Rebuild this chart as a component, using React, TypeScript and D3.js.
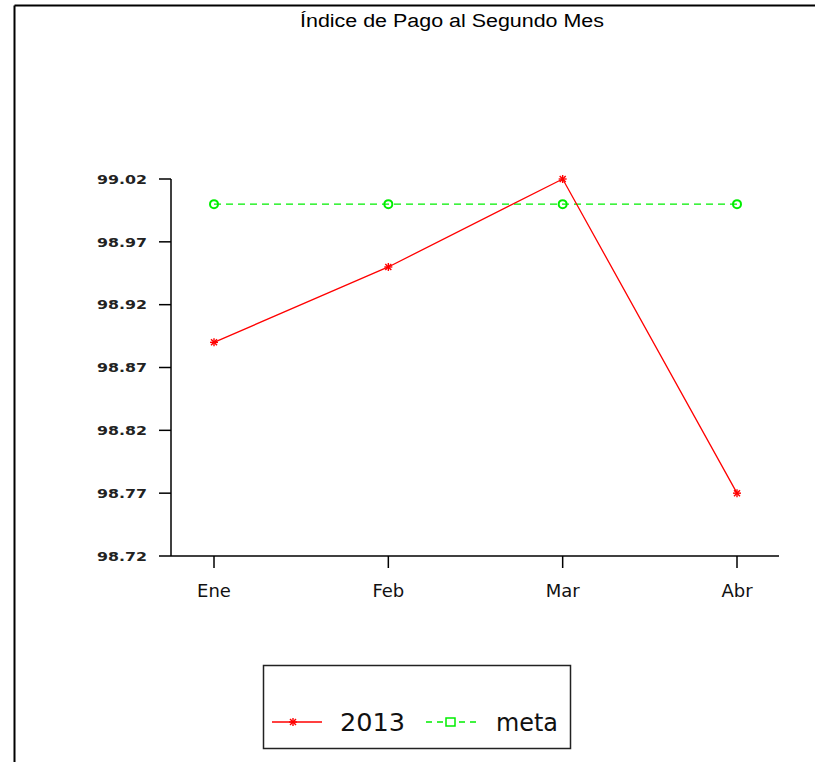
import React from "react";
import * as d3 from "d3";

const categories = ["Ene", "Feb", "Mar", "Abr"];
const series2013 = [98.89, 98.95, 99.02, 98.77];
const seriesMeta = [99.0, 99.0, 99.0, 99.0];
const yTicks = [98.72, 98.77, 98.82, 98.87, 98.92, 98.97, 99.02];
const title = "Índice de Pago al Segundo Mes";
const legendLabels = ["2013", "meta"];

const W = 815;
const H = 762;

function Star({ x, y, color }: { x: number; y: number; color: string }) {
  const r = 4;
  return (
    <g stroke={color} strokeWidth={1.4}>
      <line x1={x - r} y1={y} x2={x + r} y2={y} />
      <line x1={x} y1={y - r} x2={x} y2={y + r} />
      <line x1={x - r * 0.75} y1={y - r * 0.75} x2={x + r * 0.75} y2={y + r * 0.75} />
      <line x1={x - r * 0.75} y1={y + r * 0.75} x2={x + r * 0.75} y2={y - r * 0.75} />
    </g>
  );
}

export default function App() {
  const axisLeft = 171;
  const axisRight = 779;
  const y = d3.scaleLinear().domain([98.72, 99.02]).range([556, 179]);
  const x = d3.scalePoint<string>().domain(categories).range([214, 737]);
  const line = d3
    .line<number>()
    .x((_, i) => x(categories[i]) as number)
    .y((d) => y(d));

  return (
    <svg
      width={W}
      height={H}
      style={{ position: "absolute", left: 0, top: 0, background: "#fff" }}
      fontFamily="'Liberation Sans', Arial, sans-serif"
    >
      <rect x={0} y={0} width={W} height={H} fill="#fff" />
      {/* frame */}
      <line x1={14.5} y1={5.5} x2={W} y2={5.5} stroke="#000" strokeWidth={2} />
      <line x1={14.5} y1={5.5} x2={14.5} y2={H} stroke="#000" strokeWidth={2} />
      <text x={300} y={27} fontSize={18} textLength={304} lengthAdjust="spacingAndGlyphs">
        {title}
      </text>

      {/* y axis */}
      <line x1={axisLeft} y1={y(99.02)} x2={axisLeft} y2={y(98.72)} stroke="#000" strokeWidth={1.5} />
      {yTicks.map((t) => (
        <g key={t}>
          <line x1={159} x2={axisLeft} y1={y(t)} y2={y(t)} stroke="#000" strokeWidth={1.5} />
          <text
            x={97}
            y={y(t)}
            dy="0.36em"
            fontSize={13}
            fontWeight="bold"
            fontFamily="'DejaVu Sans', sans-serif"
            fill="#222"
            textLength={50}
            lengthAdjust="spacingAndGlyphs"
          >
            {t.toFixed(2)}
          </text>
        </g>
      ))}

      {/* x axis */}
      <line x1={axisLeft} y1={y(98.72)} x2={axisRight} y2={y(98.72)} stroke="#000" strokeWidth={1.5} />
      {categories.map((c) => (
        <g key={c}>
          <line x1={x(c)} x2={x(c)} y1={y(98.72)} y2={568} stroke="#000" strokeWidth={1.5} />
          <text
            x={x(c)}
            y={597}
            textAnchor="middle"
            fontSize={18}
            fontFamily="'DejaVu Sans', sans-serif"
            fill="#111"
          >
            {c}
          </text>
        </g>
      ))}

      {/* meta */}
      <path d={line(seriesMeta) || ""} fill="none" stroke="#00ee00" strokeWidth={1.3} strokeDasharray="7,5" />
      {seriesMeta.map((v, i) => (
        <circle key={i} cx={x(categories[i])} cy={y(v)} r={4} fill="none" stroke="#00ee00" strokeWidth={2} />
      ))}

      {/* 2013 */}
      <path d={line(series2013) || ""} fill="none" stroke="#ff0000" strokeWidth={1.3} />
      {series2013.map((v, i) => (
        <Star key={i} x={x(categories[i]) as number} y={y(v)} color="#ff0000" />
      ))}

      {/* legend */}
      <rect x={263.5} y={665.5} width={307} height={83} fill="#fff" stroke="#222" strokeWidth={1.5} />
      <line x1={272} x2={322} y1={722} y2={722} stroke="#ff0000" strokeWidth={1.3} />
      <Star x={293} y={722} color="#ff0000" />
      <text x={340} y={731} fontSize={24} fontFamily="'DejaVu Sans', sans-serif" fill="#111" textLength={65} lengthAdjust="spacingAndGlyphs">
        {legendLabels[0]}
      </text>
      <line x1={426} x2={476} y1={722} y2={722} stroke="#00ee00" strokeWidth={1.3} strokeDasharray="6,5" />
      <rect x={446} y={718} width={9} height={8} fill="#fff" stroke="#00ee00" strokeWidth={1.5} />
      <text x={496} y={731} fontSize={24} fontFamily="'DejaVu Sans', sans-serif" fill="#111" textLength={62} lengthAdjust="spacingAndGlyphs">
        {legendLabels[1]}
      </text>
    </svg>
  );
}
